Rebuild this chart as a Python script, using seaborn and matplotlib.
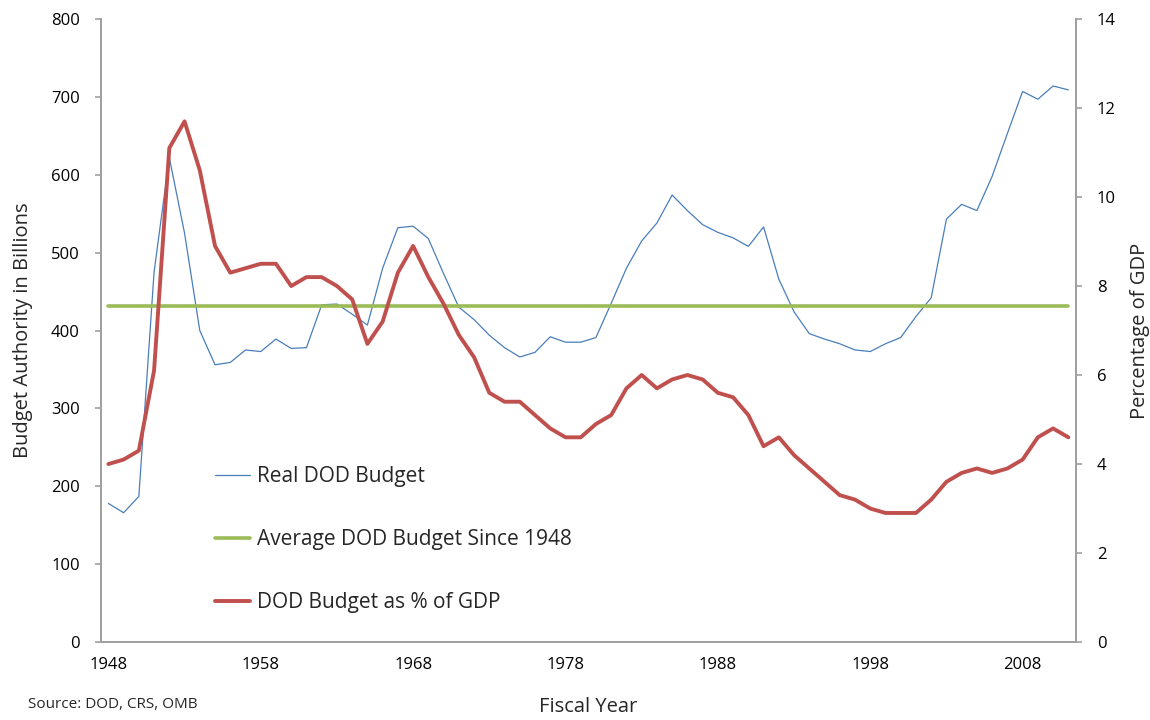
import numpy as np
import pandas as pd
import matplotlib
matplotlib.use("Agg")
import matplotlib.pyplot as plt
import seaborn as sns

years = list(range(1948, 2012))
real_budget = [178, 166, 187, 475, 622, 525, 400, 356, 359, 375,
               373, 389, 377, 378, 433, 434, 421, 407, 480, 532,
               534, 518, 473, 430, 414, 394, 378, 366, 372, 392,
               385, 385, 391, 435, 480, 515, 538, 574, 554, 536,
               526, 519, 508, 533, 466, 424, 396, 389, 383, 375,
               373, 383, 391, 418, 442, 543, 562, 554, 598, 653,
               707, 697, 714, 709]
average_budget = [432] * len(years)
pct_gdp = [4.0, 4.1, 4.3, 6.1, 11.1, 11.7, 10.6, 8.9, 8.3, 8.4,
           8.5, 8.5, 8.0, 8.2, 8.2, 8.0, 7.7, 6.7, 7.2, 8.3,
           8.9, 8.2, 7.6, 6.9, 6.4, 5.6, 5.4, 5.4, 5.1, 4.8,
           4.6, 4.6, 4.9, 5.1, 5.7, 6.0, 5.7, 5.9, 6.0, 5.9,
           5.6, 5.5, 5.1, 4.4, 4.6, 4.2, 3.9, 3.6, 3.3, 3.2,
           3.0, 2.9, 2.9, 2.9, 3.2, 3.6, 3.8, 3.9, 3.8, 3.9,
           4.1, 4.6, 4.8, 4.6]
tick_years = [1948, 1958, 1968, 1978, 1988, 1998, 2008]

df = pd.DataFrame({"pos": np.arange(len(years)), "year": years,
                   "real": real_budget, "avg": average_budget, "pct": pct_gdp})

sns.set_theme(style="white")
plt.rcParams["font.family"] = ["Open Sans", "DejaVu Sans"]

BLUE = "#4A7EBB"
GREEN = "#9BBB59"
RED = "#C0504D"
GREY = "#A0A0A0"

fig = plt.figure(figsize=(11.5, 7.2), dpi=100)
ax = fig.add_axes([0.0876, 0.1083, 0.848, 0.8653])
ax2 = ax.twinx()

sns.lineplot(data=df, x="pos", y="real", ax=ax, color=BLUE, linewidth=0.9,
             label="Real DOD Budget", legend=False)
sns.lineplot(data=df, x="pos", y="avg", ax=ax, color=GREEN, linewidth=2.6,
             label="Average DOD Budget Since 1948", legend=False)
sns.lineplot(data=df, x="pos", y="pct", ax=ax2, color=RED, linewidth=2.8,
             label="DOD Budget as % of GDP", legend=False)

ax.set_xlim(-0.5, len(years) - 0.5)
ax.set_ylim(0, 800)
ax2.set_ylim(0, 14)
ax.set_yticks(range(0, 801, 100))
ax2.set_yticks(range(0, 15, 2))
tick_pos = [years.index(y) for y in tick_years]
ax.set_xticks(tick_pos)
ax.set_xticklabels([str(y) for y in tick_years])

for a in (ax, ax2):
    a.spines["top"].set_visible(False)
    for s in ("left", "right", "bottom"):
        a.spines[s].set_color(GREY)
        a.spines[s].set_linewidth(1.3)
    a.tick_params(axis="y", colors=GREY, length=4, width=1.2, labelsize=12,
                  labelcolor="black", pad=11)
    a.tick_params(axis="x", length=0, labelsize=12, labelcolor="black", pad=11)
    a.grid(False)

ax.set_xlabel("Fiscal Year", fontsize=14.5, labelpad=17)
ax.set_ylabel("Budget Authority in Billions", fontsize=14.5, labelpad=13)
ax2.set_ylabel("Percentage of GDP", fontsize=14.5, labelpad=10)

h1, l1 = ax.get_legend_handles_labels()
h2, l2 = ax2.get_legend_handles_labels()
leg = ax2.legend(h1 + h2, l1 + l2, loc="upper left",
                 bbox_to_anchor=(215 / 1150, 1 - 466 / 720),
                 bbox_transform=fig.transFigure, frameon=False,
                 fontsize=15, handlelength=1.7, handletextpad=0.3,
                 labelspacing=2.02, borderpad=0, borderaxespad=0)

fig.text(28 / 1150, 1 - 704 / 720, "Source: DOD, CRS, OMB", fontsize=11,
         va="center", ha="left")

fig.savefig("out.png", dpi=100)
